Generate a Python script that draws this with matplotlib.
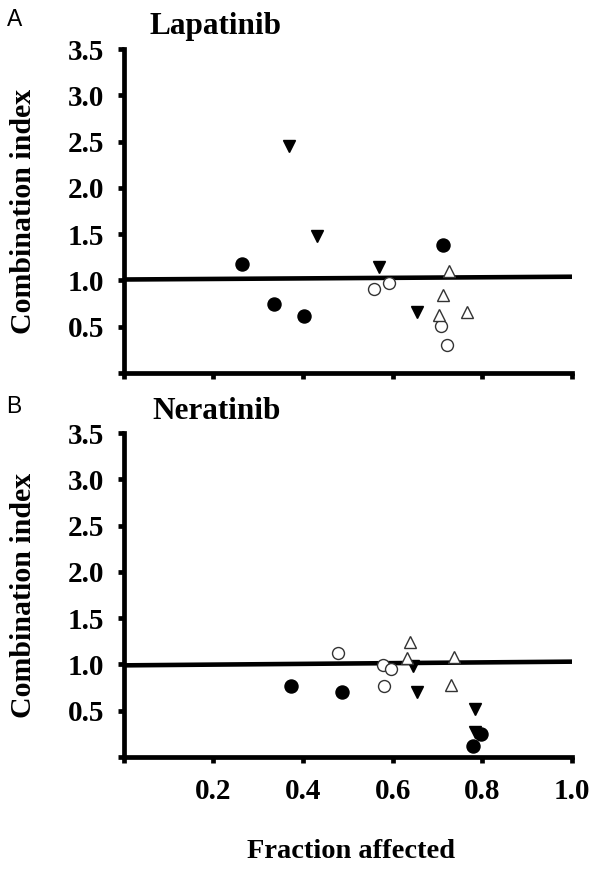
import numpy as np
import matplotlib.pyplot as plt

plt.rcParams['font.family'] = ['Liberation Serif', 'DejaVu Serif']
plt.rcParams['font.weight'] = 'bold'

# Panel A - Lapatinib
lap_fill_circ_x = [0.264, 0.336, 0.402, 0.713]
lap_fill_circ_y = [1.18, 0.74, 0.62, 1.38]
lap_open_circ_x = [0.558, 0.593, 0.707, 0.721]
lap_open_circ_y = [0.91, 0.97, 0.51, 0.30]
lap_fill_tri_x = [0.370, 0.431, 0.570, 0.654]
lap_fill_tri_y = [2.45, 1.48, 1.15, 0.66]
lap_open_tri_x = [0.726, 0.713, 0.704, 0.767]
lap_open_tri_y = [1.10, 0.84, 0.63, 0.66]
lap_ref_x = [0.0, 1.0]
lap_ref_y = [1.01, 1.04]

# Panel B - Neratinib
ner_fill_circ_x = [0.373, 0.487, 0.779, 0.796]
ner_fill_circ_y = [0.77, 0.70, 0.12, 0.25]
ner_open_circ_x = [0.479, 0.579, 0.596, 0.581]
ner_open_circ_y = [1.12, 0.99, 0.95, 0.77]
ner_fill_tri_x = [0.646, 0.655, 0.784, 0.784]
ner_fill_tri_y = [0.98, 0.70, 0.52, 0.27]
ner_open_tri_x = [0.639, 0.631, 0.738, 0.731]
ner_open_tri_y = [1.24, 1.07, 1.08, 0.78]
ner_ref_x = [0.0, 1.0]
ner_ref_y = [0.99, 1.03]

xticks = [0.0, 0.2, 0.4, 0.6, 0.8, 1.0]
xticklabels = ['', '0.2', '0.4', '0.6', '0.8', '1.0']
yticks = [0.0, 0.5, 1.0, 1.5, 2.0, 2.5, 3.0, 3.5]
yticklabels = ['', '0.5', '1.0', '1.5', '2.0', '2.5', '3.0', '3.5']

W, H = 600, 869
fig = plt.figure(figsize=(W / 100, H / 100), dpi=100)


def panel(ax, fc, oc, ft, ot, ref, show_xlabels):
    ax.plot(ref[0], ref[1], color='black', lw=3.3, solid_capstyle='butt', zorder=1)
    ax.plot(fc[0], fc[1], 'o', ms=9.4, mfc='black', mec='black', clip_on=False, zorder=3)
    ax.plot(oc[0], oc[1], 'o', ms=8.6, mfc='white', mec='#333333', mew=1.0, clip_on=False, zorder=3)
    ax.plot(ft[0], ft[1], 'v', ms=9.0, mfc='black', mec='black', clip_on=False, zorder=3)
    ax.plot(ot[0], ot[1], '^', ms=8.6, mfc='white', mec='#333333', mew=1.0, clip_on=False, zorder=3)
    ax.set_xlim(0, 1.0)
    ax.set_ylim(0, 3.5)
    for s in ['top', 'right']:
        ax.spines[s].set_visible(False)
    for s in ['left', 'bottom']:
        ax.spines[s].set_linewidth(3.4)
    ax.set_xticks(xticks)
    ax.set_yticks(yticks)
    ax.set_yticklabels(yticklabels)
    if show_xlabels:
        ax.set_xticklabels(xticklabels)
    else:
        ax.set_xticklabels([''] * len(xticks))
    ax.tick_params(axis='both', direction='out', length=4, width=3.4, labelsize=21)
    ax.tick_params(axis='y', pad=10)
    ax.tick_params(axis='x', pad=11)
    ax.set_ylabel('Combination index', fontsize=21.5, fontweight='bold')
    ax.yaxis.set_label_coords(-0.192, 0.5)


ax1 = fig.add_axes([123.5 / W, 1 - 373 / H, 448.5 / W, 324 / H])
panel(ax1, (lap_fill_circ_x, lap_fill_circ_y), (lap_open_circ_x, lap_open_circ_y),
      (lap_fill_tri_x, lap_fill_tri_y), (lap_open_tri_x, lap_open_tri_y),
      (lap_ref_x, lap_ref_y), False)

ax2 = fig.add_axes([123.5 / W, 1 - 757 / H, 448.5 / W, 324 / H])
panel(ax2, (ner_fill_circ_x, ner_fill_circ_y), (ner_open_circ_x, ner_open_circ_y),
      (ner_fill_tri_x, ner_fill_tri_y), (ner_open_tri_x, ner_open_tri_y),
      (ner_ref_x, ner_ref_y), True)

fig.text(150 / W, 1 - 34 / H, 'Lapatinib', fontsize=22.5, fontweight='bold', va='baseline', ha='left')
fig.text(152 / W, 1 - 419 / H, 'Neratinib', fontsize=22.5, fontweight='bold', va='baseline', ha='left')
fig.text(351 / W, 1 - 858 / H, 'Fraction affected', fontsize=20.5, fontweight='bold',
         va='baseline', ha='center')
fig.text(7 / W, 1 - 26 / H, 'A', fontsize=16.5, fontweight='normal', family='Liberation Sans',
         va='baseline', ha='left')
fig.text(6 / W, 1 - 413 / H, 'B', fontsize=16.5, fontweight='normal', family='Liberation Sans',
         va='baseline', ha='left')

fig.savefig('out.png', dpi=100)
